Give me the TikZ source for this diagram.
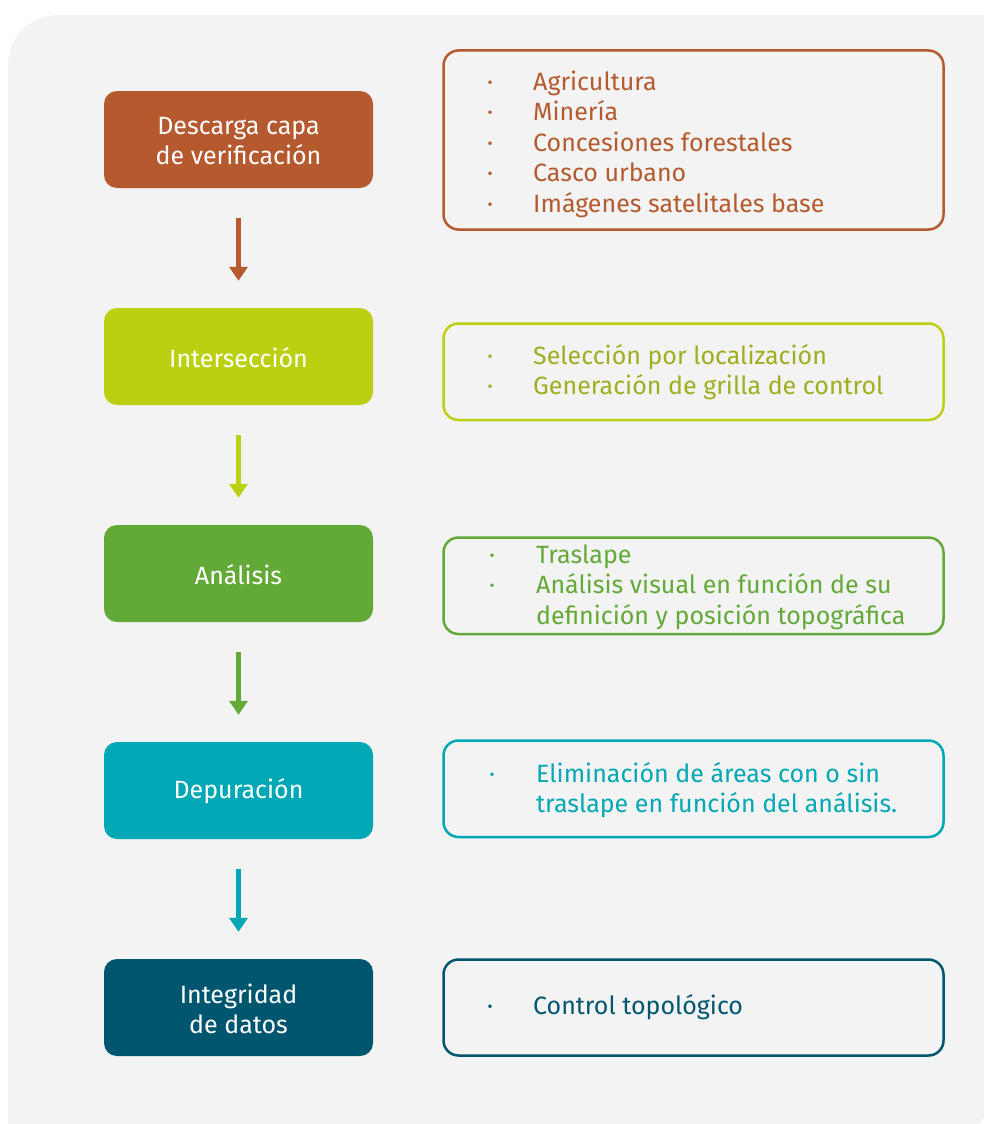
\documentclass[tikz,border=0pt]{standalone}
\usepackage{fontspec}
\setmainfont{Fira Sans}
\usetikzlibrary{arrows.meta}
\definecolor{bgc}{HTML}{F3F3F3}
\definecolor{cA}{HTML}{B55A2E}
\definecolor{cB}{HTML}{BCD012}
\definecolor{cBt}{HTML}{9EAE1E}
\definecolor{cC}{HTML}{62A937}
\definecolor{cD}{HTML}{00A7B4}
\definecolor{cE}{HTML}{00566F}
\newcommand{\bul}[1]{\makebox[#1][l]{\textperiodcentered}}
\begin{document}
\begin{tikzpicture}[x=1pt,y=-1pt,
  stepbox/.style={fill=#1, rounded corners=13pt, minimum width=269pt, minimum height=97pt,
    text=white, align=center, font=\fontsize{25}{30}\selectfont, inner sep=0pt},
  steptext/.style={text=white, align=center, font=\fontsize{25}{30}\selectfont, inner sep=0pt},
  infobox/.style={draw=#1, line width=2.5pt, rounded corners=15pt, fill=none},
  info/.style={anchor=west, align=left, inner sep=0pt, text=#1, font=\fontsize{25}{30.5}\selectfont},
  arr/.style={draw=#1, line width=4.5pt, -{Triangle[width=18pt,length=14pt]}, shorten <=30pt, shorten >=27pt}]
\useasboundingbox (0,0) rectangle (984,1124);
\clip (0,0) rectangle (984,1124);
\fill[white] (0,0) rectangle (984,1124);
\fill[bgc] (8,1130) -- (8,65) arc[start angle=180,end angle=270,radius=50] -- (990,15) -- (990,1100) arc[start angle=0,end angle=90,radius=30] -- cycle;

% left step boxes
\node[stepbox=cA] (s1) at (238.5,139.5) {};
\node[stepbox=cB] (s2) at (238.5,356.5) {};
\node[stepbox=cC] (s3) at (238.5,573.5) {};
\node[stepbox=cD] (s4) at (238.5,790.5) {};
\node[stepbox=cE] (s5) at (238.5,1007.5) {};
\node[steptext] (l1) at (238.5,141.5) {Descarga capa\\de verificación};
\node[steptext] (l2) at (238.5,358) {Intersección};
\node[steptext] (l3) at (238.5,575) {Análisis};
\node[steptext] (l4) at (238.5,791.5) {Depuración};
\node[steptext] (l5) at (238.5,1009) {Integridad\\de datos};

% arrows
\draw[arr=cA] (s1) -- (s2);
\draw[arr=cB] (s2) -- (s3);
\draw[arr=cC] (s3) -- (s4);
\draw[arr=cD] (s4) -- (s5);

% right info boxes
\draw[infobox=cA] (443.5,50.5) rectangle (943.5,229.5);
\draw[infobox=cB] (443.5,323.5) rectangle (943.5,420);
\draw[infobox=cC] (443.5,537.5) rectangle (943.5,634);
\draw[infobox=cD] (443.5,740.5) rectangle (943.5,837);
\draw[infobox=cE] (443.5,959.5) rectangle (943.5,1055.5);

\node[info=cA] (t1) at (487,144) {\bul{46pt}Agricultura\\\bul{46pt}Minería\\\bul{46pt}Concesiones forestales\\\bul{46pt}Casco urbano\\\bul{46pt}Imágenes satelitales base};
\node[info=cBt] (t2) at (487,372) {\bul{46pt}Selección por localización\\\bul{46pt}Generación de grilla de control};
\node[info=cC] (t3) at (489,587) {\bul{47pt}Traslape\\\bul{47pt}Análisis visual en función de su\\\hspace*{47pt}definición y posición topográfica};
\node[info=cD] (t4) at (489,790) {\bul{47pt}Eliminación de áreas con o sin\\\hspace*{47pt}traslape en función del análisis.};
\node[info=cE] (t5) at (487,1007) {\bul{46pt}Control topológico};
\end{tikzpicture}
\end{document}
